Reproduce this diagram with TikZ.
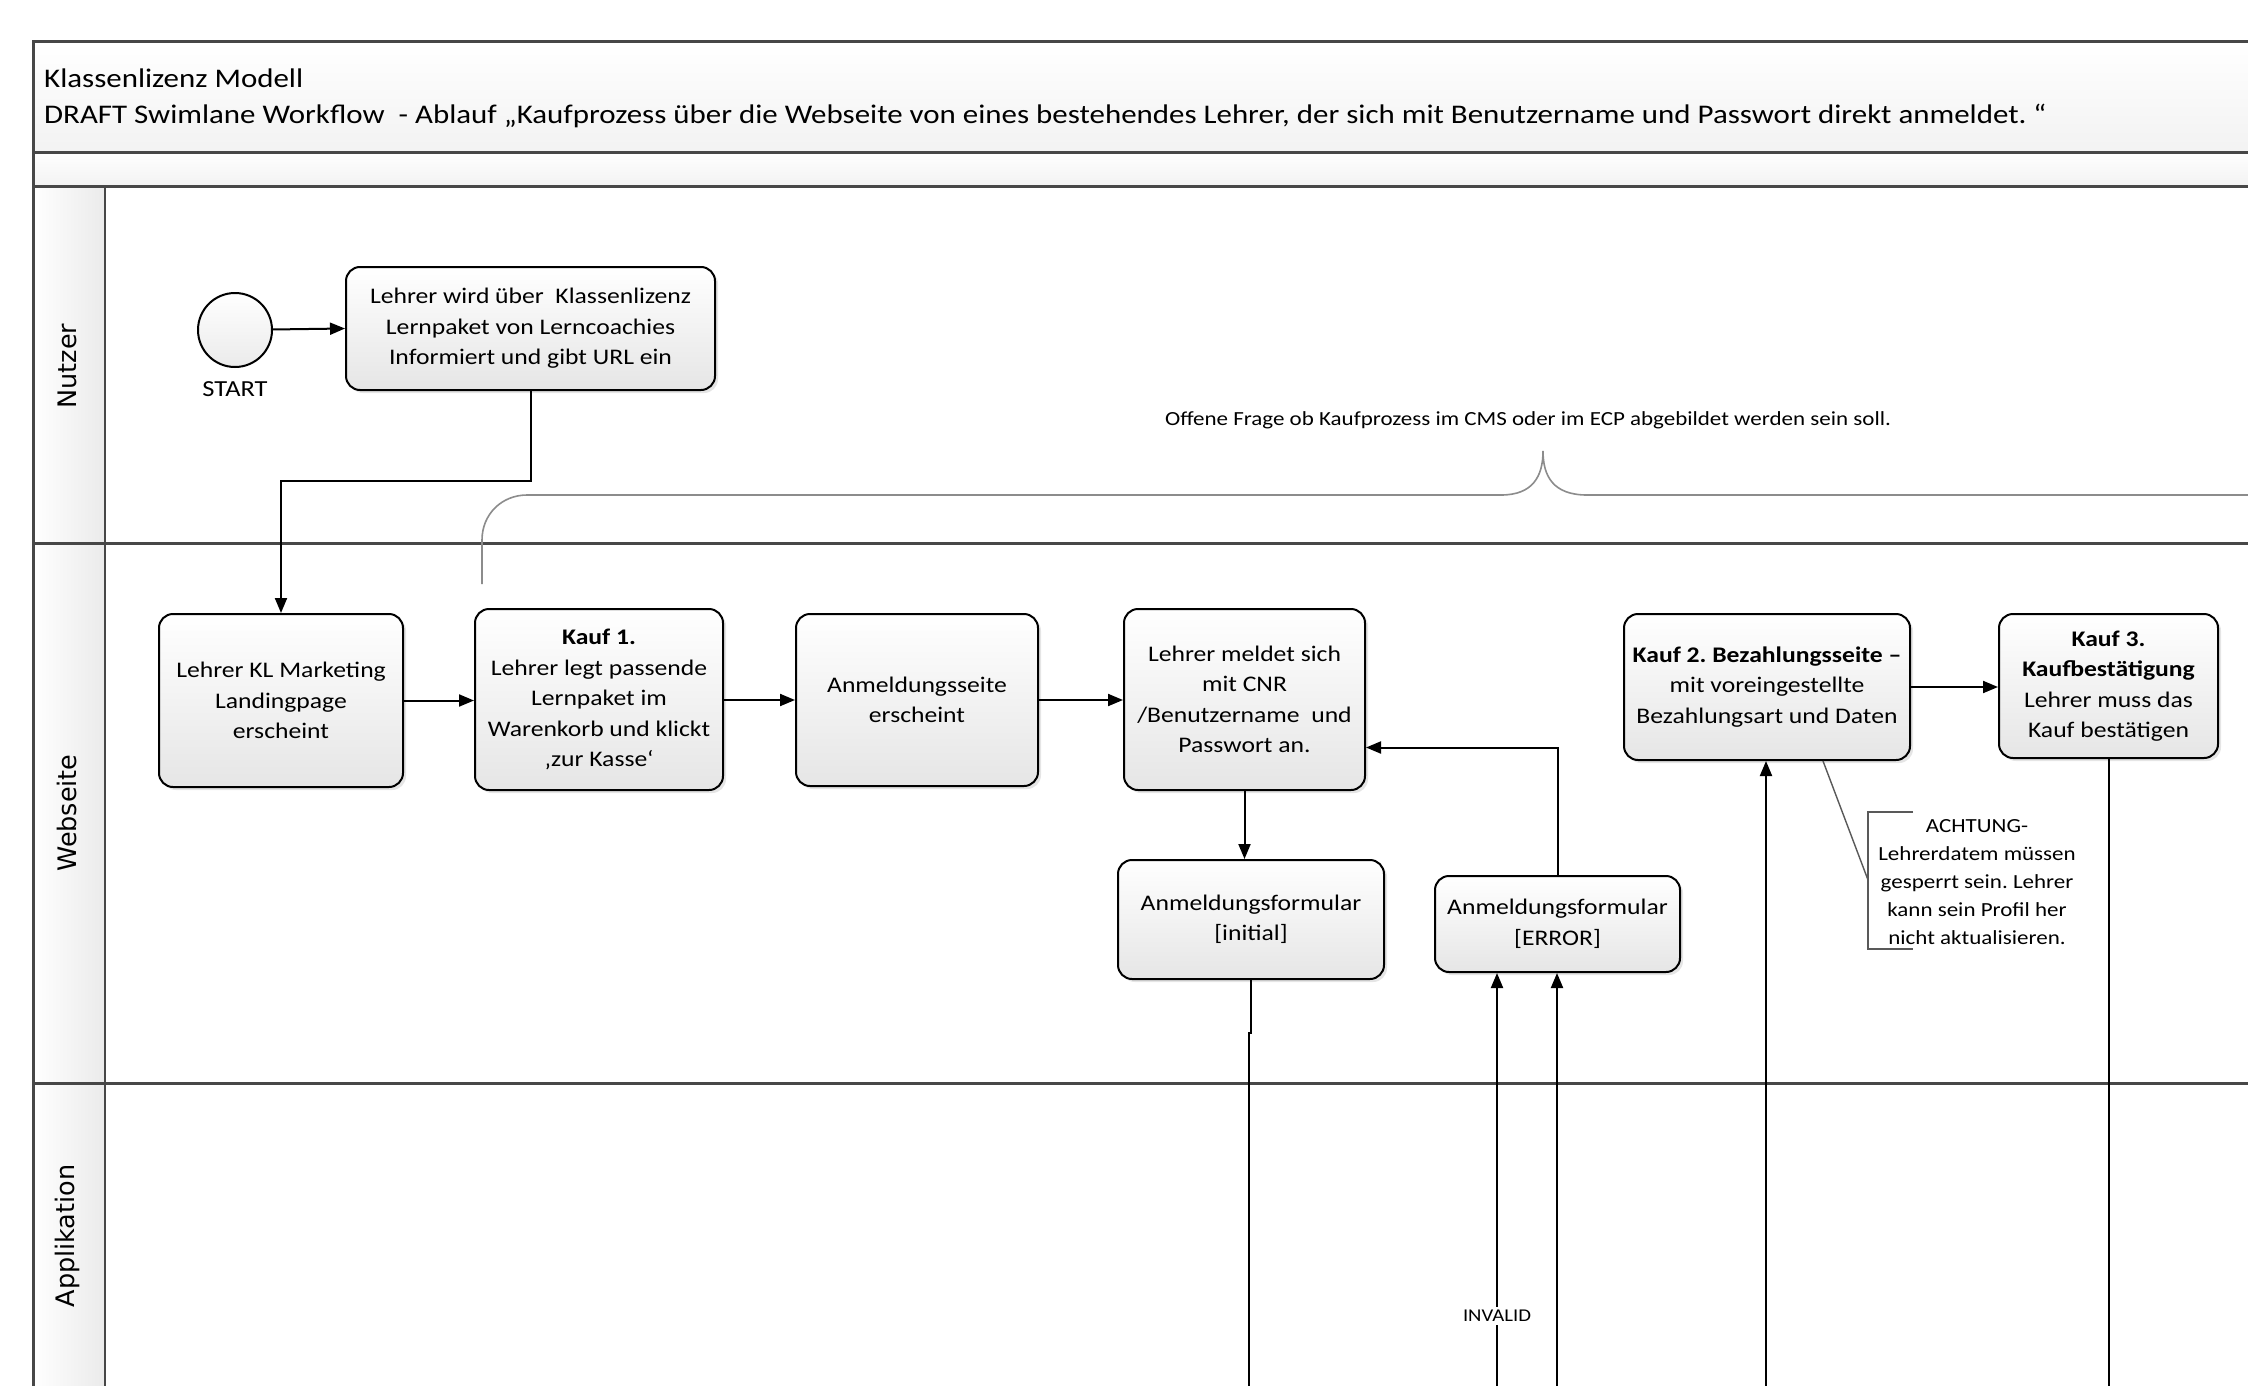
\documentclass[tikz,border=0pt]{standalone}
\usepackage{fontspec}
\setmainfont{Carlito}[FakeStretch=1.15]
\newfontfamily\lanefont{DejaVu Sans}
\usetikzlibrary{arrows.meta,shadows}
\frenchspacing
\begin{document}
\begin{tikzpicture}[x=1pt,y=-1pt,
  frame/.style={draw=black!72, line width=3pt},
  framethin/.style={draw=black!72, line width=2.5pt},
  box/.style={draw=black, line width=2pt, rounded corners=14pt, top color=white, bottom color=black!10,
     align=center, font=\fontsize{22.3}{30.5}\selectfont, inner sep=0pt,
     execute at begin node={\rule{0pt}{27.5pt}},
     drop shadow={shadow xshift=3pt, shadow yshift=-3pt, opacity=0.2}},
  conn/.style={draw=black, line width=2pt, -{Triangle[length=15pt,width=12pt]}},
  plain/.style={draw=black, line width=2pt},
  lane/.style={rotate=90, font=\lanefont\fontsize{25.5}{25.5}\selectfont},
  note/.style={draw=black!65, line width=1.6pt}
]
\useasboundingbox (0,0) rectangle (2248,1386);
\fill[white] (0,0) rectangle (2248,1386);

% pool frame
\fill[top color=white, bottom color=black!5] (33,42) rectangle (2248,152);
\fill[top color=white, bottom color=black!5] (33,152) rectangle (2248,186);
\fill[left color=white, right color=black!8] (33,186) rectangle (105,1386);
\draw[frame] (2252,42) -- (33,42) -- (33,1392);
\draw[frame] (33,152) -- (2252,152);
\draw[frame] (33,186) -- (2252,186);
\draw[framethin] (105,186) -- (105,1392);
\draw[frame] (33,543) -- (2252,543);
\draw[frame] (33,1083) -- (2252,1083);

% title
\node[anchor=base west, font=\fontsize{26.9}{36}\selectfont, inner sep=0] (t1) at (44,88) {Klassenlizenz Modell};
\node[anchor=base west, font=\fontsize{26.9}{36}\selectfont, inner sep=0] (t2) at (44,124) {DRAFT Swimlane Workflow\ \ - Ablauf „Kaufprozess über die Webseite von eines bestehendes Lehrer, der sich mit Benutzername und Passwort direkt anmeldet. “};

% lane labels
\node[lane] (l1) at (67,366) {Nutzer};
\node[lane] (l2) at (67,813) {Webseite};
\node[lane] (l3) at (67,1236) {Applikation};

% brace annotation
\draw[black!45, line width=1.6pt] (482,584) -- (482,540) .. controls (482,514) and (502,495) .. (527,495) -- (1501,495)
  .. controls (1533,495) and (1543,476) .. (1543,451)
  .. controls (1543,476) and (1553,495) .. (1587,495) -- (2252,495);
\node[font=\fontsize{20}{24}\selectfont] (q) at (1528,420) {Offene Frage ob Kaufprozess im CMS oder im ECP abgebildet werden sein soll.};

% start
\node[circle, draw=black, line width=2pt, minimum size=74pt, inner sep=0pt, top color=white, bottom color=black!8] (start) at (235,330) {};
\node[font=\fontsize{23}{23}\selectfont] (startlbl) at (235,389) {START};

% boxes
\node[box, minimum width=369pt, minimum height=123pt] (b1) at (530.5,328.5) {Lehrer wird über\ \ Klassenlizenz\\Lernpaket von Lerncoachies\\Informiert und gibt URL ein};
\node[box, minimum width=244pt, minimum height=173pt] (b2) at (281,700.5) {Lehrer KL Marketing\\Landingpage\\erscheint};
\node[box, minimum width=248pt, minimum height=181pt] (b3) at (599,699.5) {\textbf{Kauf 1.}\\Lehrer legt passende\\Lernpaket im\\Warenkorb und klickt\\‚zur Kasse‘};
\node[box, minimum width=242pt, minimum height=172pt] (b4) at (917,700) {Anmeldungsseite\\erscheint};
\node[box, minimum width=241pt, minimum height=181pt] (b5) at (1244.5,699.5) {Lehrer meldet sich\\mit CNR\\/Benutzername\ \ und\\Passwort an.};
\node[box, minimum width=286pt, minimum height=146pt] (b6) at (1767,687) {\textbf{Kauf 2. Bezahlungsseite –}\\mit voreingestellte\\Bezahlungsart und Daten};
\node[box, minimum width=219pt, minimum height=144pt] (b7) at (2108.5,686) {\textbf{Kauf 3.}\\\textbf{Kaufbestätigung}\\Lehrer muss das\\Kauf bestätigen};
\node[box, minimum width=266pt, minimum height=119pt] (b8) at (1251,919.5) {Anmeldungsformular\\{[initial]}};
\node[box, minimum width=245pt, minimum height=96pt] (b9) at (1557.5,924) {Anmeldungsformular\\{[ERROR]}};

% free ends at the bottom edge
\coordinate (e1) at (1249,1392);
\coordinate (e2) at (1497,1392);
\coordinate (e3) at (1557,1392);
\coordinate (e4) at (1766,1392);
\coordinate (e5) at (2108.5,1392);

% connectors
\draw[conn] (start) -- (b1.west);
\draw[conn] (b1.south) -- ++(0,90) -| (b2.north);
\draw[conn] (b2.east) -- (b3.west |- b2.east);
\draw[conn] (b3.east |- b4.west) -- (b4.west);
\draw[conn] (b4.east) -- (b5.west |- b4.east);
\draw[conn] (b5.south) -- (b5.south |- b8.north);
\draw[plain] (b8.south) -- ++(0,53) -| (e1);
\draw[conn] (b9.north) |- ([yshift=-48pt]b5.east);
\draw[conn] (e2) -- (e2 |- b9.south);
\draw[conn] (e3) -- (e3 |- b9.south);
\node[fill=white, inner sep=3pt, font=\fontsize{18}{18}\selectfont] (inv) at (1497,1316) {INVALID};
\draw[conn] (e4) -- (e4 |- b6.south);
\draw[conn] (b6.east) -- (b7.west |- b6.east);
\draw[plain] (b7.south) -- (e5);

% ACHTUNG note
\coordinate (nt) at (1913,812);
\coordinate (nb) at (1913,949);
\draw[note] (nt) -- (1868,812) -- (1868,949) -- (nb);
\draw[black!65, line width=1.4pt] ([xshift=56pt]b6.south) -- (1868,880);
\node[align=center, font=\fontsize{20}{27.8}\selectfont] (note) at (1977,882) {ACHTUNG-\\Lehrerdatem müssen\\gesperrt sein. Lehrer\\kann sein Profil her\\nicht aktualisieren.};
\end{tikzpicture}
\end{document}
